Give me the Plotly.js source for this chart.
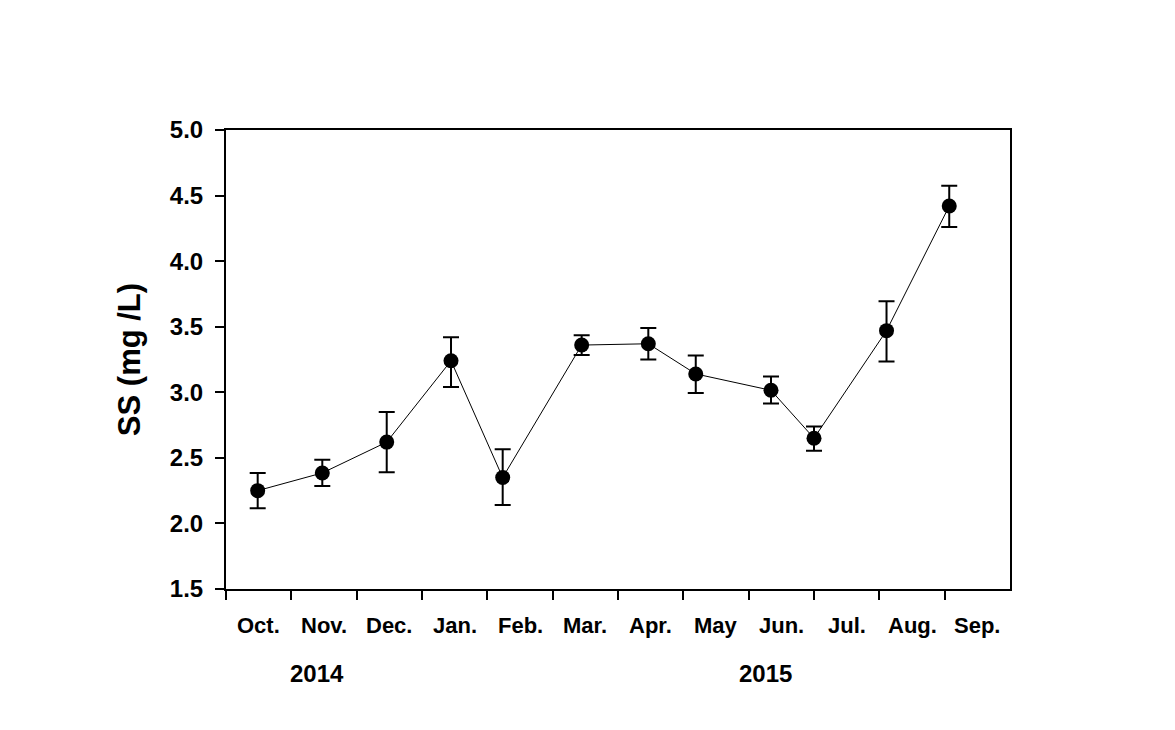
<!DOCTYPE html>
<html>
<head>
<meta charset="utf-8">
<script src="https://cdn.plot.ly/plotly-3.0.1.min.js"></script>
<style>
  html, body { margin: 0; padding: 0; background: #fff; }
  #chart { width: 1175px; height: 730px; }
</style>
</head>
<body>
<div id="chart"></div>
<script>
// monthly SS samples, Oct 2014 - Sep 2015
const months = ['Oct.', 'Nov.', 'Dec.', 'Jan.', 'Feb.', 'Mar.', 'Apr.', 'May', 'Jun.', 'Jul.', 'Aug.', 'Sep.'];
// sampling position along the month axis (0 = start of Oct.)
const sampleX = [0.485, 1.474, 2.46, 3.444, 4.235, 5.444, 6.464, 7.19, 8.342, 9.0, 10.11, 11.07];
const ssMean = [2.25, 2.385, 2.62, 3.24, 2.35, 3.36, 3.37, 3.14, 3.015, 2.65, 3.47, 4.42];
const errUp = [0.135, 0.10, 0.23, 0.18, 0.215, 0.075, 0.12, 0.14, 0.105, 0.09, 0.225, 0.155];
const errDown = [0.135, 0.10, 0.23, 0.20, 0.21, 0.075, 0.12, 0.145, 0.10, 0.095, 0.235, 0.16];
const years = ['2014', '2015'];
const yearX = [1.39, 8.25];

const FONT = 'Arial, "Liberation Sans", sans-serif';

const monthNotes = months.map((m, i) => ({
  x: i + 0.5, xref: 'x', y: -0.08, yref: 'paper',
  text: m, showarrow: false, xanchor: 'center', yanchor: 'middle',
  font: { family: FONT, size: 22, weight: 'bold', color: '#000' },
}));
const yearNotes = years.map((yr, i) => ({
  x: yearX[i], xref: 'x', y: -0.185, yref: 'paper',
  text: yr, showarrow: false, xanchor: 'center', yanchor: 'middle',
  font: { family: FONT, size: 24, weight: 'bold', color: '#000' },
}));

Plotly.newPlot('chart', [{
  x: sampleX, y: ssMean,
  type: 'scatter', mode: 'lines+markers',
  line: { color: '#000', width: 1 },
  marker: { color: '#000', size: 15 },
  error_y: {
    type: 'data', symmetric: false, array: errUp, arrayminus: errDown,
    color: '#000', thickness: 2, width: 8,
  },
  showlegend: false,
  hoverinfo: 'skip',
}], {
  width: 1175, height: 730,
  margin: { l: 226, r: 165, t: 130, b: 141 },
  paper_bgcolor: '#fff', plot_bgcolor: '#fff',
  font: { family: FONT, color: '#000' },
  xaxis: {
    range: [0, 12], tickvals: [0, 1, 2, 3, 4, 5, 6, 7, 8, 9, 10, 11],
    showticklabels: false, ticks: 'outside', ticklen: 9, tickwidth: 2, tickcolor: '#000',
    showgrid: false, zeroline: false,
    showline: true, linecolor: '#000', linewidth: 2, mirror: true,
  },
  yaxis: {
    range: [1.5, 5.0], dtick: 0.5, tick0: 1.5, tickformat: '.1f',
    ticks: 'outside', ticklen: 9, tickwidth: 2, tickcolor: '#000',
    ticklabelstandoff: 7,
    tickfont: { family: FONT, size: 24, weight: 'bold', color: '#000' },
    showgrid: false, zeroline: false,
    showline: true, linecolor: '#000', linewidth: 2, mirror: true,
    title: { text: 'SS (mg /L)', standoff: 20, font: { family: FONT, size: 31, weight: 'bold', color: '#000' } },
  },
  annotations: [...monthNotes, ...yearNotes],
}, { displayModeBar: false, staticPlot: true });
</script>
</body>
</html>
